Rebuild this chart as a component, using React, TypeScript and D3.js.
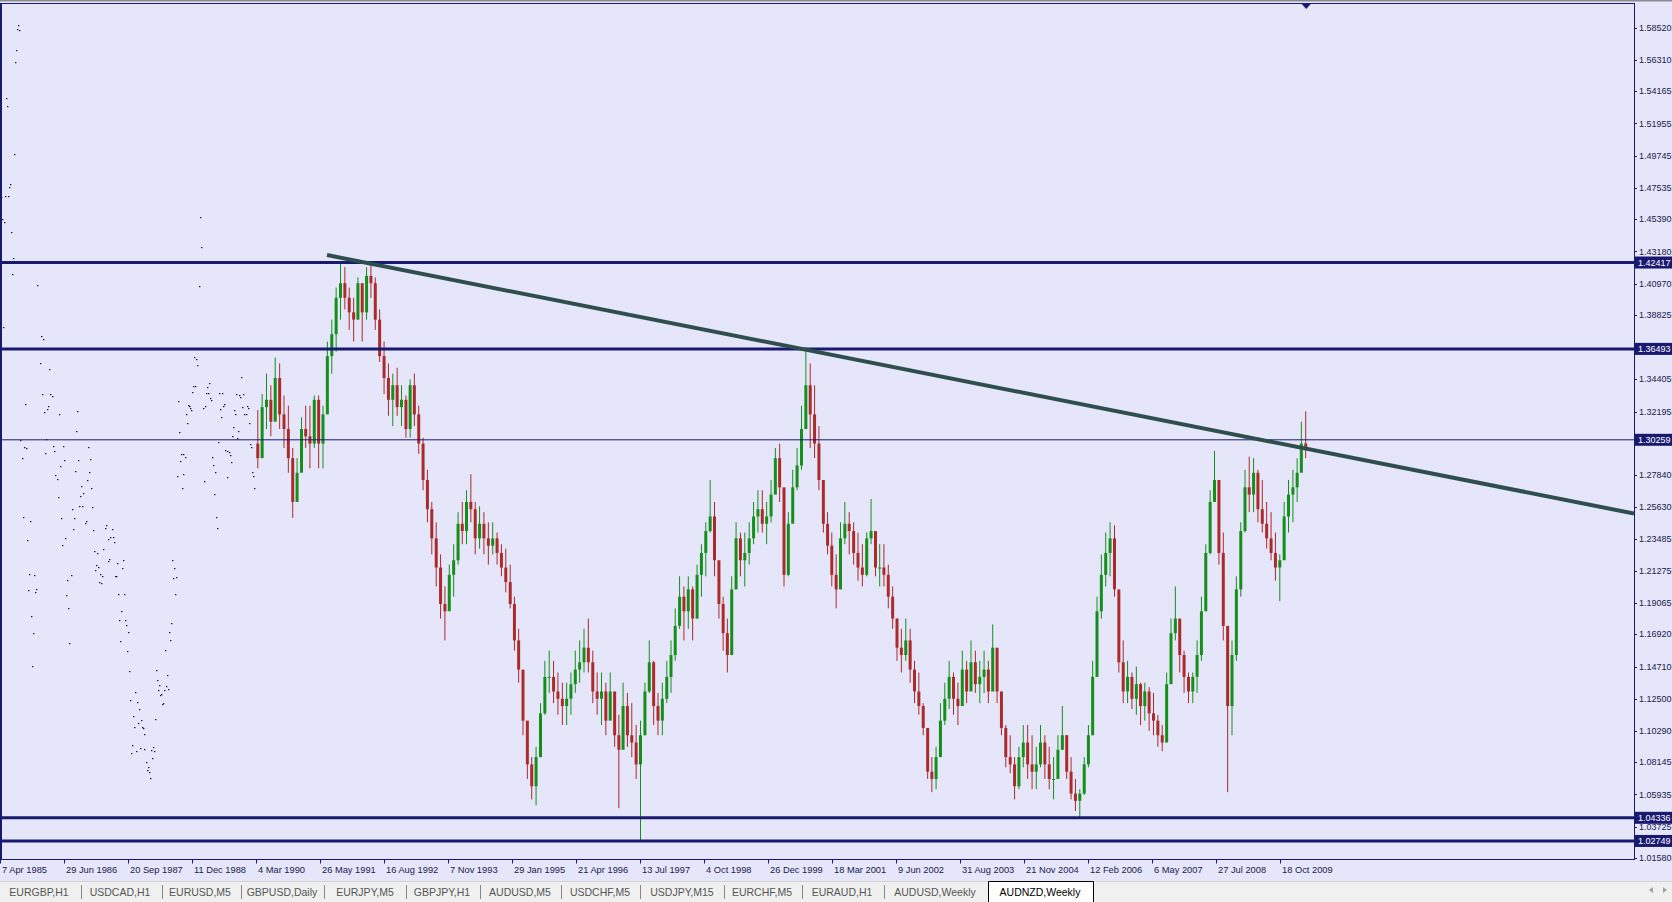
import React from "react";
import * as d3 from "d3";

const W = 1672;
const H = 902;
const plotRight = 1634;
const plotTop = 3;
const plotBottom = 859.5;

// x axis: weekly bars, one pixel each, counted from the first date label
const axisStart = "7 Apr 1985";
const axisEnd = "4 Apr 2010";

const dateTickLabels = [
  "7 Apr 1985", "29 Jun 1986", "20 Sep 1987", "11 Dec 1988", "4 Mar 1990",
  "26 May 1991", "16 Aug 1992", "7 Nov 1993", "29 Jan 1995", "21 Apr 1996",
  "13 Jul 1997", "4 Oct 1998", "26 Dec 1999", "18 Mar 2001", "9 Jun 2002",
  "31 Aug 2003", "21 Nov 2004", "12 Feb 2006", "6 May 2007", "27 Jul 2008",
  "18 Oct 2009",
];

const priceTicks = [
  1.5852, 1.5631, 1.54165, 1.51955, 1.49745, 1.47535, 1.4539, 1.4318, 1.4097,
  1.38825, 1.34405, 1.32195, 1.2784, 1.2563, 1.23485, 1.21275, 1.19065, 1.1692,
  1.1471, 1.125, 1.1029, 1.08145, 1.05935, 1.03725, 1.0158,
];

// horizontal levels drawn on the chart
const levelPrices = [1.42417, 1.36493, 1.30259, 1.04336, 1.02749];
const levelWidths = [3, 3, 1, 3, 3];

// trend line anchors (ray to the right)
const trendDates = ["1991-07-14", "2000-09-24"];
const trendPrices = [1.4293, 1.3642];

// monthly bars starting March 1990
const barStart = "1990-03-01";
const firstOpen = 1.3;
const mHigh = [
  1.323, 1.334, 1.348, 1.34, 1.359, 1.355, 1.333, 1.326, 1.297, 1.29, 1.318, 1.326,
  1.326, 1.333, 1.333, 1.326, 1.37, 1.385, 1.407, 1.425, 1.421, 1.407, 1.4, 1.414,
  1.407, 1.421, 1.425, 1.414, 1.392, 1.37, 1.355, 1.348, 1.352, 1.34, 1.333, 1.344,
  1.348, 1.326, 1.304, 1.282, 1.26, 1.246, 1.224, 1.202, 1.217, 1.231, 1.253, 1.26,
  1.268, 1.279, 1.26, 1.257, 1.253, 1.246, 1.246, 1.239, 1.231, 1.228, 1.217, 1.195,
  1.173, 1.143, 1.107, 1.085, 1.092, 1.122, 1.151, 1.158, 1.151, 1.143, 1.136, 1.136,
  1.143, 1.158, 1.165, 1.173, 1.18, 1.158, 1.143, 1.143, 1.136, 1.143, 1.129, 1.114,
  1.136, 1.129, 1.122, 1.107, 1.11, 1.136, 1.165, 1.151, 1.129, 1.136, 1.151, 1.165,
  1.187, 1.209, 1.202, 1.209, 1.202, 1.217, 1.231, 1.246, 1.275, 1.26, 1.217, 1.195,
  1.18, 1.209, 1.246, 1.239, 1.239, 1.246, 1.26, 1.268, 1.268, 1.26, 1.275, 1.297,
  1.3, 1.253, 1.253, 1.282, 1.297, 1.326, 1.364, 1.355, 1.34, 1.312, 1.275, 1.253,
  1.239, 1.224, 1.246, 1.26, 1.253, 1.246, 1.239, 1.231, 1.239, 1.262, 1.239, 1.231,
  1.231, 1.217, 1.202, 1.18, 1.173, 1.18, 1.173, 1.151, 1.143, 1.122, 1.1, 1.085,
  1.092, 1.122, 1.136, 1.151, 1.143, 1.136, 1.158, 1.151, 1.165, 1.158, 1.151, 1.158,
  1.151, 1.176, 1.158, 1.129, 1.107, 1.1, 1.085, 1.092, 1.107, 1.107, 1.1, 1.092,
  1.107, 1.1, 1.092, 1.085, 1.1, 1.12, 1.1, 1.085, 1.07, 1.063, 1.085, 1.107,
  1.151, 1.195, 1.224, 1.239, 1.246, 1.244, 1.195, 1.165, 1.151, 1.143, 1.147, 1.136,
  1.136, 1.133, 1.129, 1.114, 1.107, 1.143, 1.18, 1.202, 1.173, 1.158, 1.143, 1.143,
  1.165, 1.195, 1.231, 1.268, 1.295, 1.268, 1.239, 1.173, 1.165, 1.209, 1.246, 1.282,
  1.291, 1.29, 1.282, 1.275, 1.26, 1.253, 1.239, 1.224, 1.26, 1.275, 1.282, 1.29,
  1.315, 1.322,
];
const mLow = [
  1.283, 1.297, 1.31, 1.305, 1.326, 1.31, 1.297, 1.28, 1.249, 1.26, 1.29, 1.297,
  1.283, 1.297, 1.283, 1.283, 1.326, 1.348, 1.363, 1.385, 1.392, 1.378, 1.37, 1.385,
  1.37, 1.385, 1.4, 1.378, 1.356, 1.334, 1.319, 1.312, 1.319, 1.312, 1.304, 1.304,
  1.312, 1.293, 1.268, 1.246, 1.224, 1.202, 1.18, 1.165, 1.187, 1.195, 1.217, 1.231,
  1.231, 1.246, 1.224, 1.228, 1.224, 1.217, 1.224, 1.217, 1.209, 1.198, 1.187, 1.158,
  1.136, 1.1, 1.07, 1.056, 1.052, 1.085, 1.114, 1.129, 1.122, 1.114, 1.107, 1.107,
  1.114, 1.129, 1.136, 1.143, 1.143, 1.122, 1.114, 1.107, 1.1, 1.114, 1.092, 1.05,
  1.1, 1.092, 1.085, 1.07, 1.0275, 1.1, 1.129, 1.107, 1.1, 1.1, 1.122, 1.129,
  1.151, 1.173, 1.165, 1.173, 1.165, 1.18, 1.195, 1.209, 1.239, 1.209, 1.18, 1.158,
  1.143, 1.165, 1.209, 1.209, 1.202, 1.217, 1.231, 1.239, 1.239, 1.231, 1.246, 1.268,
  1.26, 1.202, 1.209, 1.246, 1.268, 1.282, 1.312, 1.297, 1.29, 1.268, 1.239, 1.224,
  1.202, 1.187, 1.209, 1.231, 1.224, 1.217, 1.206, 1.202, 1.209, 1.231, 1.209, 1.202,
  1.202, 1.187, 1.173, 1.151, 1.143, 1.151, 1.136, 1.122, 1.114, 1.1, 1.07, 1.061,
  1.063, 1.092, 1.107, 1.118, 1.114, 1.107, 1.129, 1.122, 1.136, 1.129, 1.122, 1.129,
  1.122, 1.143, 1.122, 1.1, 1.078, 1.074, 1.056, 1.063, 1.078, 1.07, 1.063, 1.063,
  1.078, 1.07, 1.063, 1.056, 1.07, 1.092, 1.07, 1.056, 1.048, 1.043, 1.059, 1.078,
  1.1, 1.143, 1.18, 1.202, 1.209, 1.195, 1.143, 1.122, 1.122, 1.118, 1.114, 1.107,
  1.11, 1.103, 1.1, 1.092, 1.089, 1.1, 1.136, 1.165, 1.143, 1.129, 1.122, 1.122,
  1.129, 1.151, 1.187, 1.224, 1.26, 1.217, 1.165, 1.061, 1.1, 1.151, 1.195, 1.239,
  1.253, 1.253, 1.246, 1.239, 1.228, 1.22, 1.206, 1.192, 1.224, 1.239, 1.246, 1.26,
  1.282, 1.29,
];
const mClose = [
  1.29, 1.325, 1.33, 1.315, 1.345, 1.32, 1.31, 1.29, 1.26, 1.28, 1.31, 1.305,
  1.3, 1.33, 1.3, 1.32, 1.36, 1.375, 1.4, 1.41, 1.4, 1.39, 1.385, 1.41,
  1.39, 1.415, 1.41, 1.385, 1.36, 1.345, 1.33, 1.34, 1.325, 1.33, 1.31, 1.34,
  1.32, 1.3, 1.275, 1.255, 1.235, 1.215, 1.19, 1.185, 1.21, 1.22, 1.245, 1.24,
  1.26, 1.255, 1.235, 1.245, 1.235, 1.23, 1.235, 1.225, 1.215, 1.205, 1.19, 1.165,
  1.145, 1.11, 1.08, 1.065, 1.085, 1.115, 1.14, 1.14, 1.13, 1.125, 1.12, 1.125,
  1.135, 1.145, 1.15, 1.16, 1.15, 1.13, 1.125, 1.13, 1.11, 1.13, 1.1, 1.09,
  1.12, 1.1, 1.095, 1.08, 1.1, 1.13, 1.15, 1.12, 1.11, 1.125, 1.14, 1.155,
  1.175, 1.195, 1.185, 1.2, 1.18, 1.21, 1.225, 1.24, 1.25, 1.22, 1.19, 1.17,
  1.155, 1.2, 1.235, 1.22, 1.225, 1.235, 1.25, 1.255, 1.245, 1.25, 1.265, 1.29,
  1.27, 1.21, 1.245, 1.27, 1.285, 1.31, 1.34, 1.32, 1.3, 1.275, 1.245, 1.23,
  1.21, 1.2, 1.235, 1.245, 1.24, 1.225, 1.215, 1.21, 1.235, 1.24, 1.215, 1.215,
  1.21, 1.195, 1.18, 1.16, 1.155, 1.165, 1.145, 1.13, 1.12, 1.105, 1.075, 1.07,
  1.085, 1.11, 1.125, 1.14, 1.125, 1.12, 1.145, 1.13, 1.15, 1.135, 1.14, 1.145,
  1.13, 1.16, 1.13, 1.105, 1.085, 1.08, 1.065, 1.085, 1.095, 1.08, 1.075, 1.08,
  1.095, 1.08, 1.07, 1.07, 1.09, 1.1, 1.075, 1.06, 1.055, 1.06, 1.08, 1.1,
  1.14, 1.185, 1.21, 1.225, 1.235, 1.2, 1.15, 1.13, 1.14, 1.125, 1.135, 1.12,
  1.13, 1.115, 1.11, 1.1, 1.095, 1.135, 1.17, 1.18, 1.155, 1.14, 1.13, 1.14,
  1.155, 1.185, 1.225, 1.26, 1.275, 1.225, 1.175, 1.12, 1.155, 1.2, 1.24, 1.27,
  1.265, 1.28, 1.255, 1.245, 1.235, 1.225, 1.215, 1.22, 1.25, 1.265, 1.27, 1.28,
  1.3, 1.297,
];

// sparse single-tick bars before 1990 (week number from axis start, price)
const dotWeek = [
  18, 17, 19, 16, 15, 6, 7, 14, 10, 9, 5, 8, 1, 2, 4, 11, 13, 12, 37, 3, 41, 43, 38, 40, 49,
  25, 42, 50, 52, 44, 47, 48, 59, 77, 76, 46, 20, 24, 26, 22, 53, 54, 45, 63, 88, 64, 78, 90,
  60, 75, 89, 55, 57, 87, 81, 91, 58, 80, 83, 79, 82, 92, 72, 23, 30, 61, 74, 86, 85, 93, 73,
  105, 106, 112, 27, 65, 62, 108, 110, 113, 114, 94, 97, 103, 109, 108, 123, 117, 122, 96, 98,
  95, 100, 102, 99, 101, 115, 116, 29, 34, 71, 67, 28, 36, 35, 66, 118, 124, 68, 31, 121, 119,
  125, 126, 128, 33, 69, 120, 127, 32, 129, 135, 130, 137, 139, 133, 138, 134, 132, 136, 131,
  200, 201, 202, 199, 194, 196, 197, 193, 195, 209, 207, 192, 206, 208, 210, 211, 178, 241,
  219, 222, 236, 239, 240, 243, 224, 223, 205, 203, 188, 189, 190, 191, 220, 234, 242, 247,
  248, 235, 244, 246, 186, 221, 187, 249, 233, 238, 179, 232, 237, 250, 251, 218, 225, 227,
  229, 230, 181, 183, 185, 180, 212, 231, 213, 183, 177, 215, 227, 204, 252, 253, 182, 254,
  214, 216, 217, 172, 174, 173, 176, 175, 171, 169, 170, 165, 156, 167, 157, 159, 166, 168,
  164, 158, 161, 160, 163, 162, 141, 142, 143, 144, 155, 140, 144, 151, 153, 154, 152, 146,
  148, 147, 149, 150,
];
const dotPrice = [
  1.5871, 1.5843, 1.5836, 1.5699, 1.5617, 1.537, 1.5315, 1.4986, 1.478, 1.476, 1.4698, 1.4698,
  1.4691, 1.454, 1.452, 1.4451, 1.4273, 1.4163, 1.4088, 1.3799, 1.3738, 1.3717, 1.3655, 1.3553,
  1.3511, 1.3271, 1.334, 1.334, 1.3326, 1.3217, 1.3237, 1.3258, 1.3203, 1.3223, 1.3086, 1.3031,
  1.3024, 1.2976, 1.297, 1.2901, 1.2983, 1.2949, 1.2935, 1.2983, 1.2976, 1.2887, 1.2887, 1.2894,
  1.2846, 1.2812, 1.2805, 1.2784, 1.2757, 1.275, 1.2709, 1.2695, 1.2634, 1.264, 1.2661, 1.2572,
  1.2572, 1.2565, 1.2551, 1.2496, 1.2469, 1.249, 1.249, 1.2469, 1.2455, 1.2407, 1.2414, 1.2421,
  1.2442, 1.2414, 1.2339, 1.2352, 1.2304, 1.2346, 1.2359, 1.2359, 1.2325, 1.2263, 1.225, 1.2277,
  1.2208, 1.2195, 1.2202, 1.2181, 1.2147, 1.2167, 1.2154, 1.2133, 1.2106, 1.2092, 1.2051, 1.2044,
  1.2092, 1.2092, 1.2106, 1.2099, 1.2099, 1.2064, 1.1996, 1.2003, 1.1982, 1.1962, 1.1968, 1.1968,
  1.1872, 1.1818, 1.1852, 1.179, 1.179, 1.1756, 1.1708, 1.1701, 1.1632, 1.1646, 1.1578, 1.1475,
  1.144, 1.1296, 1.1241, 1.1228, 1.118, 1.1132, 1.1084, 1.1056, 1.0933, 1.0892, 1.0878,
  1.4554, 1.4348, 1.4252, 1.4081, 1.3594, 1.358, 1.3539, 1.3395, 1.3395, 1.3415, 1.3388, 1.3354,
  1.3347, 1.3347, 1.3313, 1.3299, 1.3292, 1.3457, 1.3347, 1.3347, 1.334, 1.3333, 1.3319, 1.334,
  1.3271, 1.3258, 1.3258, 1.3244, 1.3265, 1.3258, 1.3244, 1.323, 1.3237, 1.323, 1.3251, 1.3258,
  1.3244, 1.3203, 1.3203, 1.3203, 1.3203, 1.3182, 1.3141, 1.3141, 1.3114, 1.3086, 1.3079, 1.3052,
  1.3038, 1.2997, 1.2976, 1.3011, 1.2956, 1.2949, 1.2942, 1.2922, 1.2929, 1.2929, 1.2908, 1.288,
  1.2908, 1.2874, 1.2853, 1.2791, 1.2778, 1.2805, 1.2771, 1.2743, 1.2805, 1.2778, 1.2695, 1.2695,
  1.2654, 1.2496, 1.2421, 1.2202, 1.2147, 1.2078, 1.2085, 1.1968, 1.1769, 1.1708, 1.1653, 1.1584,
  1.1447, 1.1413, 1.1379, 1.1344, 1.1337, 1.1317, 1.131, 1.131, 1.1283, 1.1276, 1.1221, 1.1214,
  1.1104, 1.1056, 1.1049, 1.1008, 1.1111, 1.0912, 1.0905, 1.0898, 1.0919, 1.0892, 1.0844, 1.0816,
  1.0782, 1.0761, 1.0748, 1.0706,
];

const tabLabels = [
  "EURGBP,H1", "USDCAD,H1", "EURUSD,M5", "GBPUSD,Daily", "EURJPY,M5", "GBPJPY,H1",
  "AUDUSD,M5", "USDCHF,M5", "USDJPY,M15", "EURCHF,M5", "EURAUD,H1", "AUDUSD,Weekly",
  "AUDNZD,Weekly",
];
const activeTab = "AUDNZD,Weekly";
// tab centres and separators (layout)
const tabX = [39, 120, 200, 282, 365, 442, 520, 600, 682, 762, 842, 935, 1040];
const sepX = [81, 162, 241, 324, 406, 480, 561, 640, 724, 802, 884];

const BG = "#E6E6FA";
const NAVY = "#191970";
const UP = "#14901a";
const DOWN = "#ab2a2a";
const TREND = "#2F4F4F";
const FONT = "'Liberation Sans', Arial, sans-serif";

const parseLabel = d3.utcParse("%d %b %Y");
const parseIso = d3.utcParse("%Y-%m-%d");

const App: React.FC = () => {
  const t0 = parseLabel(axisStart)!;
  const t1 = parseLabel(axisEnd)!;
  const weeks = (t1.getTime() - t0.getTime()) / (7 * 864e5);
  const x = d3.scaleUtc().domain([t0, t1]).range([0, weeks]);
  const y = d3.scaleLinear().domain([1.0158, 1.5852]).range([858, 27.7]);

  const bStart = parseIso(barStart)!;
  const bars = mClose.map((c, i) => {
    const d0 = d3.utcMonth.offset(bStart, i);
    const d1 = d3.utcMonth.offset(bStart, i + 1);
    const open = i === 0 ? firstOpen : mClose[i - 1];
    return { cx: (x(d0) + x(d1)) / 2, open, close: c, high: mHigh[i], low: mLow[i] };
  });

  const dots = dotWeek.map((w, i) => ({
    x: x(d3.utcWeek.offset(t0, w)),
    y: y(dotPrice[i]),
  }));

  // trend ray
  const tx1 = x(parseIso(trendDates[0])!);
  const ty1 = y(trendPrices[0]);
  const tx2 = x(parseIso(trendDates[1])!);
  const ty2 = y(trendPrices[1]);
  const slope = (ty2 - ty1) / (tx2 - tx1);
  const tyEnd = ty1 + slope * (plotRight - tx1);

  const lastX = bars[bars.length - 1].cx;

  const dateTicks = dateTickLabels.map((l) => ({ label: l, x: x(parseLabel(l)!) }));

  return (
    <div style={{ position: "fixed", left: 0, top: 0, width: W, height: H }}>
      <svg width={W} height={H} style={{ display: "block", fontFamily: FONT }}>
        <rect x={0} y={0} width={W} height={H} fill={BG} />
        <defs>
          <clipPath id="plot">
            <rect x={0} y={plotTop} width={plotRight} height={plotBottom - plotTop} />
          </clipPath>
        </defs>

        <g clipPath="url(#plot)">
          {dots.map((d, i) => (
            <rect key={"d" + i} x={Math.round(d.x)} y={Math.round(d.y)} width={1.4} height={1.2} fill="#141440" />
          ))}
          {bars.map((b, i) => {
            const col = b.close >= b.open ? UP : DOWN;
            const top = y(Math.max(b.open, b.close));
            const bot = y(Math.min(b.open, b.close));
            return (
              <g key={"b" + i}>
                <line x1={b.cx} x2={b.cx} y1={y(b.high)} y2={y(b.low)} stroke={col} strokeWidth={1} />
                <rect x={b.cx - 1.5} y={top} width={3} height={Math.max(1, bot - top)} fill={col} />
              </g>
            );
          })}
          {levelPrices.map((p, i) => (
            <line key={"l" + i} x1={0} x2={plotRight} y1={y(p)} y2={y(p)} stroke={NAVY} strokeWidth={levelWidths[i]} />
          ))}
          <line x1={tx1} y1={ty1} x2={plotRight} y2={tyEnd} stroke={TREND} strokeWidth={4} />
        </g>

        {/* frame */}
        <rect x={0} y={0} width={W} height={1.5} fill="#8a8a94" />
        <line x1={0} x2={plotRight} y1={plotTop + 0.5} y2={plotTop + 0.5} stroke={NAVY} />
        <line x1={1} x2={1} y1={plotTop} y2={plotBottom} stroke={NAVY} strokeWidth={2} />
        <line x1={plotRight + 0.5} x2={plotRight + 0.5} y1={plotTop} y2={plotBottom} stroke={NAVY} />
        <line x1={0} x2={plotRight + 1} y1={plotBottom} y2={plotBottom} stroke={NAVY} />

        {/* shift marker */}
        <path d={`M${lastX - 4},${plotTop + 1} L${lastX + 5},${plotTop + 1} L${lastX + 0.5},${plotTop + 6} Z`} fill={NAVY} />

        {/* price axis */}
        {priceTicks.map((p) => (
          <g key={"p" + p}>
            <line x1={plotRight} x2={plotRight + 3} y1={Math.round(y(p)) + 0.5} y2={Math.round(y(p)) + 0.5} stroke={NAVY} />
            <text x={plotRight + 5} y={y(p)} dy="0.35em" fontSize={9} fill="#20204a">
              {p.toFixed(5)}
            </text>
          </g>
        ))}
        {levelPrices.map((p) => (
          <g key={"pl" + p}>
            <rect x={plotRight + 1} y={y(p) - 6} width={W - plotRight} height={12} fill={NAVY} />
            <text x={plotRight + 4} y={y(p)} dy="0.35em" fontSize={9} fill="#ffffff">
              {p.toFixed(5)}
            </text>
          </g>
        ))}

        {/* date axis */}
        {dateTicks.map((t) => (
          <g key={t.label}>
            <line x1={Math.round(t.x) + 0.5} x2={Math.round(t.x) + 0.5} y1={plotBottom} y2={plotBottom + 4} stroke={NAVY} />
            <text x={Math.max(0, t.x + 2)} y={870} dy="0.35em" fontSize={9.3} fill="#20204a">
              {t.label}
            </text>
          </g>
        ))}

        {/* tab bar */}
        <rect x={0} y={881} width={W} height={H - 881} fill="#F0F0F0" />
        <line x1={0} x2={W} y1={881.5} y2={881.5} stroke="#d4d4d4" />
        <path d={`M988.5,${H} V881.5 H1093.5 V${H}`} fill="#ffffff" stroke="#000" />
        {tabLabels.map((l, i) => (
          <text key={"t" + i} x={tabX[i]} y={892} dy="0.35em" textAnchor="middle" fontSize={10.5}
            fill={l === activeTab ? "#000" : "#555"}>
            {l}
          </text>
        ))}
        {sepX.map((sx) => (
          <line key={"s" + sx} x1={sx + 0.5} x2={sx + 0.5} y1={885} y2={899} stroke="#888" />
        ))}
        <path d="M1649,890 L1653,887 L1653,893 Z" fill="#a0a0a0" />
        <path d="M1667,890 L1663,887 L1663,893 Z" fill="#a0a0a0" />
      </svg>
    </div>
  );
};

export default App;
